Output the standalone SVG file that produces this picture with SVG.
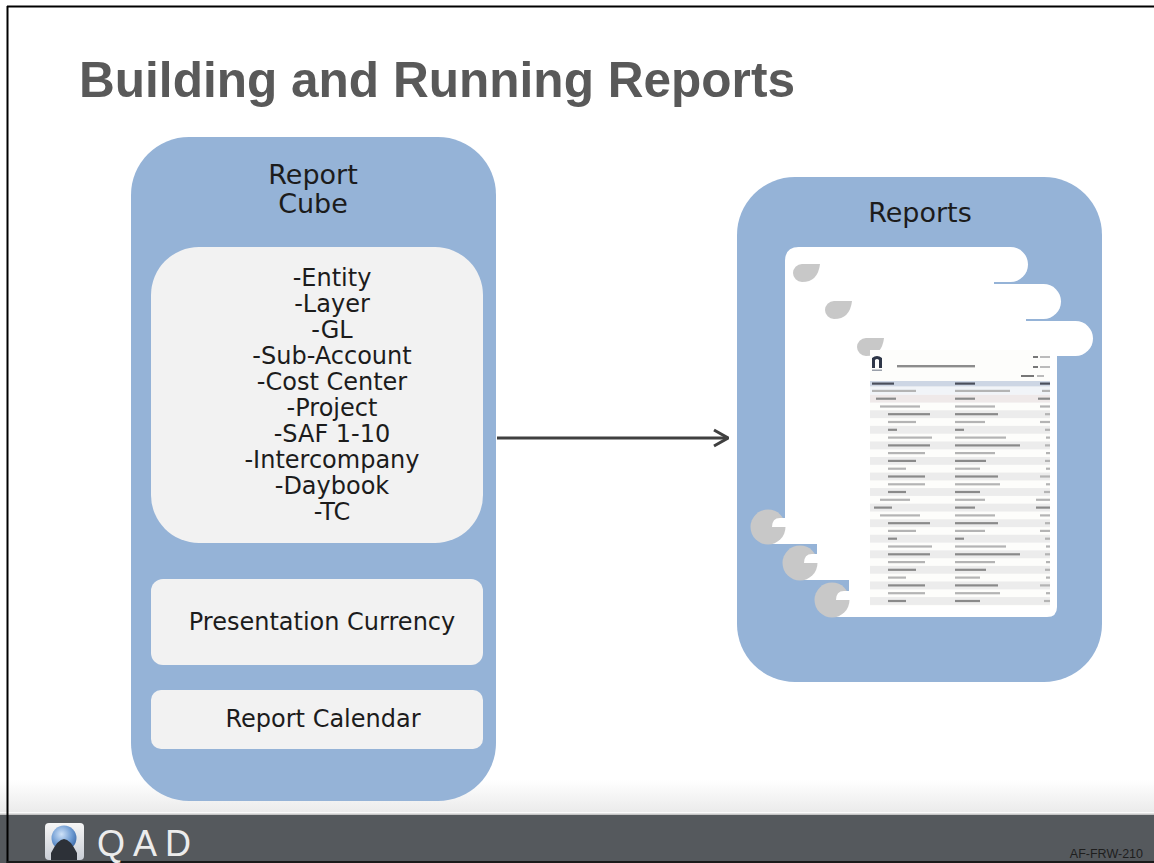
<svg xmlns="http://www.w3.org/2000/svg" width="1154" height="863" viewBox="0 0 1154 863">
  <defs>
    <style>
      .title { font-family: "Liberation Sans", Arial, sans-serif; font-weight: bold; font-size: 50px; fill: #595959; }
      .lbl { font-family: "DejaVu Sans", "Liberation Sans", sans-serif; fill: #1c1c1c; text-anchor: middle; }
      .big { font-size: 27px; }
      .item { font-size: 24px; }
      .panel { fill: #95b3d7; }
      .inner { fill: #f2f2f2; }
      .sheet { fill: #ffffff; }
      .curl { fill: #c8c8c8; }
      .bar { fill: #b4b4b4; }
      .barDark { fill: #8a8a8a; }
      .stripe { fill: #ececec; }
      .conn { stroke: #404040; stroke-width: 3; fill: none; }
    </style>
    <marker id="chevron" viewBox="0 0 16 20" refX="15" refY="10" markerWidth="16" markerHeight="20" markerUnits="userSpaceOnUse" orient="auto">
      <path d="M1,2 L15,10 L1,18" fill="none" stroke="#404040" stroke-width="3"/>
    </marker>
    <linearGradient id="fade" x1="0" y1="0" x2="0" y2="1">
      <stop offset="0" stop-color="#ffffff"/>
      <stop offset="1" stop-color="#ebebeb"/>
    </linearGradient>
    <linearGradient id="tile" x1="0" y1="0" x2="0" y2="1">
      <stop offset="0" stop-color="#f6f6f6"/>
      <stop offset="1" stop-color="#c9ced6"/>
    </linearGradient>
    <radialGradient id="globe" cx="0.4" cy="0.35" r="0.7">
      <stop offset="0" stop-color="#cfe2f8"/>
      <stop offset="0.6" stop-color="#6e9bd2"/>
      <stop offset="1" stop-color="#3b69a8"/>
    </radialGradient>
  </defs>

  <!-- page -->
  <rect x="0" y="0" width="1154" height="863" fill="#ffffff"/>
  <rect x="0" y="780" width="1154" height="32" fill="url(#fade)"/>
  <rect x="0" y="812" width="1154" height="1.5" fill="#fafafa"/>
  <rect x="0" y="813.5" width="1154" height="1.5" fill="#c4c4c4"/>
  <rect x="0" y="815" width="1154" height="48" fill="#55595d"/>
  <line x1="7.5" y1="6" x2="7.5" y2="863" stroke="#000" stroke-width="2"/>
  <line x1="7" y1="6.5" x2="1154" y2="6.5" stroke="#000" stroke-width="2"/>
  <line x1="7" y1="862" x2="1154" y2="862" stroke="#1a1a1a" stroke-width="2"/>

  <text class="title" x="79" y="97" textLength="716" lengthAdjust="spacingAndGlyphs">Building and Running Reports</text>

  <!-- Report Cube -->
  <g id="report-cube">
    <rect class="panel" x="131" y="137" width="365" height="664" rx="58"/>
    <text class="lbl big" x="313" y="184">Report</text>
    <text class="lbl big" x="313" y="213">Cube</text>
  </g>

  <g id="dimensions">
    <rect class="inner" x="151" y="247" width="332" height="296" rx="48"/>
    <text class="lbl item" x="332" y="286">-Entity</text>
    <text class="lbl item" x="332" y="312">-Layer</text>
    <text class="lbl item" x="332" y="338">-GL</text>
    <text class="lbl item" x="332" y="364">-Sub-Account</text>
    <text class="lbl item" x="332" y="390">-Cost Center</text>
    <text class="lbl item" x="332" y="416">-Project</text>
    <text class="lbl item" x="332" y="442">-SAF 1-10</text>
    <text class="lbl item" x="332" y="468">-Intercompany</text>
    <text class="lbl item" x="332" y="494">-Daybook</text>
    <text class="lbl item" x="332" y="520">-TC</text>
  </g>

  <g id="presentation-currency">
    <rect class="inner" x="151" y="579" width="332" height="86" rx="12"/>
    <text class="lbl item" x="322" y="630">Presentation Currency</text>
  </g>

  <g id="report-calendar">
    <rect class="inner" x="151" y="690" width="332" height="59" rx="10"/>
    <text class="lbl item" x="323" y="727">Report Calendar</text>
  </g>

  <!-- connectors -->
  <g id="connectors">
    <line class="conn" x1="497" y1="438" x2="728" y2="438" marker-end="url(#chevron)"/>
  </g>

  <!-- Reports -->
  <g id="reports">
    <rect class="panel" x="737" y="177" width="365" height="505" rx="58"/>
    <text class="lbl big" x="920" y="222">Reports</text>

    <!-- stacked report sheets: body, top roll, bottom-left curl -->
    <g id="sheet-1">
      <path class="sheet" d="M785,261 Q785,247 799,247 L994,247 L994,544 L768,544 L768,527 L785,527 Z"/>
      <rect class="sheet" x="785" y="247" width="243" height="35" rx="17.5"/>
      <path class="curl" d="M820,264 L802,264 A9,9 0 0 0 802,282 Q818,282 820,264 Z"/>
      <circle class="curl" cx="768" cy="527" r="17.5"/>
      <path class="sheet" d="M772,527 L786,527 L786,518 L780,518 Q772,518 772,527 Z"/>
    </g>
    <g id="sheet-2">
      <path class="sheet" d="M817,284 L1026,284 L1026,580 L800,580 L800,563 L817,563 Z"/>
      <rect class="sheet" x="817" y="284" width="244" height="35" rx="17.5"/>
      <path class="curl" d="M852,301 L834,301 A9,9 0 0 0 834,319 Q850,319 852,301 Z"/>
      <circle class="curl" cx="800" cy="563" r="17.5"/>
      <path class="sheet" d="M804,563 L818,563 L818,554 L812,554 Q804,554 804,563 Z"/>
    </g>
    <g id="sheet-3">
      <path class="sheet" d="M849,321 L1057,321 L1057,607 Q1057,617 1047,617 L832,617 L832,600 L849,600 Z"/>
      <rect class="sheet" x="849" y="321" width="244" height="35" rx="17.5"/>
      <path class="curl" d="M884,338 L866,338 A9,9 0 0 0 866,356 Q882,356 884,338 Z"/>
      <circle class="curl" cx="832" cy="600" r="17.5"/>
      <path class="sheet" d="M836,600 L850,600 L850,591 L844,591 Q836,591 836,600 Z"/>
    </g>

    <!-- report preview -->
    <g id="report-preview">
      <rect x="870" y="350" width="180" height="256" fill="#fdfdfb"/>
      <path d="M872,368 L872,358 Q877,354 882,358 L882,368 L879,368 L879,360 Q877,358 875,360 L875,368 Z" fill="#2e3647"/>
      <rect x="872" y="369.5" width="10" height="1.5" fill="#9aa0aa"/>
      <rect x="897" y="365" width="78" height="2.4" fill="#8c8c8c"/>
      <rect x="1033" y="356" width="5" height="2" fill="#777"/>
      <rect x="1040" y="356" width="10" height="2" fill="#bbb"/>
      <rect x="1033" y="366" width="5" height="2" fill="#777"/>
      <rect x="1040" y="366" width="10" height="2" fill="#bbb"/>
      <rect x="1021" y="375" width="13" height="2" fill="#777"/>
      <rect x="1037" y="375" width="7" height="2" fill="#bbb"/>

      <rect x="870" y="381" width="180" height="5.5" fill="#cdd6e4"/>
      <rect x="872" y="382.5" width="22" height="2.2" fill="#4a4f5c"/>
      <rect x="955" y="382.5" width="20" height="2.2" fill="#4a4f5c"/>
      <rect x="1040" y="382.5" width="10" height="2.2" fill="#4a4f5c"/>

      <g transform="translate(0,387)"><rect x="870" y="0" width="180" height="7.8" fill="#f1f4f8"/><rect class="bar" x="872" y="2.8" width="44" height="2.2"/><rect class="bar" x="955" y="2.8" width="55" height="2.2"/><rect class="bar" x="1042" y="2.8" width="8" height="2.2"/></g>
      <g transform="translate(0,394.8)"><rect x="870" y="0" width="180" height="7.8" fill="#efe9e9"/><rect class="barDark" x="876" y="2.8" width="20" height="2.2"/><rect class="barDark" x="955" y="2.8" width="20" height="2.2"/><rect class="barDark" x="1038" y="2.8" width="12" height="2.2"/></g>
      <g transform="translate(0,402.6)"><rect class="bar" x="880" y="2.8" width="40" height="2.2"/><rect class="bar" x="955" y="2.8" width="40" height="2.2"/><rect class="bar" x="1040" y="2.8" width="10" height="2.2"/></g>
      <g transform="translate(0,410.3)"><rect class="stripe" x="870" y="0" width="180" height="7.8"/><rect class="barDark" x="888" y="2.8" width="42" height="2.2"/><rect class="barDark" x="955" y="2.8" width="43" height="2.2"/><rect class="bar" x="1045" y="2.8" width="5" height="2.2"/></g>
      <g transform="translate(0,418.1)"><rect class="bar" x="888" y="2.8" width="28" height="2.2"/><rect class="bar" x="955" y="2.8" width="30" height="2.2"/><rect class="bar" x="1040" y="2.8" width="10" height="2.2"/></g>
      <g transform="translate(0,425.9)"><rect class="stripe" x="870" y="0" width="180" height="7.8"/><rect class="barDark" x="888" y="2.8" width="9" height="2.2"/><rect class="barDark" x="955" y="2.8" width="9" height="2.2"/><rect class="bar" x="1045" y="2.8" width="5" height="2.2"/></g>
      <g transform="translate(0,433.7)"><rect class="bar" x="888" y="2.8" width="44" height="2.2"/><rect class="bar" x="955" y="2.8" width="51" height="2.2"/><rect class="bar" x="1046" y="2.8" width="4" height="2.2"/></g>
      <g transform="translate(0,441.5)"><rect class="stripe" x="870" y="0" width="180" height="7.8"/><rect class="barDark" x="888" y="2.8" width="42" height="2.2"/><rect class="barDark" x="955" y="2.8" width="65" height="2.2"/><rect class="bar" x="1045" y="2.8" width="5" height="2.2"/></g>
      <g transform="translate(0,449.2)"><rect class="bar" x="888" y="2.8" width="37" height="2.2"/><rect class="bar" x="955" y="2.8" width="40" height="2.2"/><rect class="bar" x="1046" y="2.8" width="4" height="2.2"/></g>
      <g transform="translate(0,457)"><rect class="stripe" x="870" y="0" width="180" height="7.8"/><rect class="barDark" x="888" y="2.8" width="28" height="2.2"/><rect class="barDark" x="955" y="2.8" width="31" height="2.2"/><rect class="bar" x="1045" y="2.8" width="5" height="2.2"/></g>
      <g transform="translate(0,464.8)"><rect class="bar" x="888" y="2.8" width="18" height="2.2"/><rect class="bar" x="955" y="2.8" width="25" height="2.2"/><rect class="bar" x="1046" y="2.8" width="4" height="2.2"/></g>
      <g transform="translate(0,472.6)"><rect class="stripe" x="870" y="0" width="180" height="7.8"/><rect class="barDark" x="888" y="2.8" width="37" height="2.2"/><rect class="barDark" x="955" y="2.8" width="43" height="2.2"/><rect class="bar" x="1040" y="2.8" width="10" height="2.2"/></g>
      <g transform="translate(0,480.4)"><rect class="bar" x="888" y="2.8" width="37" height="2.2"/><rect class="bar" x="955" y="2.8" width="45" height="2.2"/><rect class="bar" x="1046" y="2.8" width="4" height="2.2"/></g>
      <g transform="translate(0,488.1)"><rect class="stripe" x="870" y="0" width="180" height="7.8"/><rect class="barDark" x="888" y="2.8" width="18" height="2.2"/><rect class="barDark" x="955" y="2.8" width="25" height="2.2"/><rect class="bar" x="1044" y="2.8" width="6" height="2.2"/></g>
      <g transform="translate(0,495.9)"><rect class="bar" x="880" y="2.8" width="30" height="2.2"/><rect class="bar" x="955" y="2.8" width="30" height="2.2"/><rect class="bar" x="1036" y="2.8" width="14" height="2.2"/></g>
      <g transform="translate(0,503.7)"><rect class="stripe" x="870" y="0" width="180" height="7.8"/><rect class="barDark" x="874" y="2.8" width="18" height="2.2"/><rect class="barDark" x="955" y="2.8" width="20" height="2.2"/><rect class="barDark" x="1036" y="2.8" width="14" height="2.2"/></g>
      <g transform="translate(0,511.5)"><rect class="bar" x="880" y="2.8" width="40" height="2.2"/><rect class="bar" x="955" y="2.8" width="40" height="2.2"/><rect class="bar" x="1040" y="2.8" width="10" height="2.2"/></g>
      <g transform="translate(0,519.3)"><rect class="stripe" x="870" y="0" width="180" height="7.8"/><rect class="barDark" x="888" y="2.8" width="42" height="2.2"/><rect class="barDark" x="955" y="2.8" width="43" height="2.2"/><rect class="bar" x="1045" y="2.8" width="5" height="2.2"/></g>
      <g transform="translate(0,527)"><rect class="bar" x="888" y="2.8" width="28" height="2.2"/><rect class="bar" x="955" y="2.8" width="30" height="2.2"/><rect class="bar" x="1040" y="2.8" width="10" height="2.2"/></g>
      <g transform="translate(0,534.8)"><rect class="stripe" x="870" y="0" width="180" height="7.8"/><rect class="barDark" x="888" y="2.8" width="9" height="2.2"/><rect class="barDark" x="955" y="2.8" width="9" height="2.2"/><rect class="bar" x="1045" y="2.8" width="5" height="2.2"/></g>
      <g transform="translate(0,542.6)"><rect class="bar" x="888" y="2.8" width="44" height="2.2"/><rect class="bar" x="955" y="2.8" width="51" height="2.2"/><rect class="bar" x="1046" y="2.8" width="4" height="2.2"/></g>
      <g transform="translate(0,550.4)"><rect class="stripe" x="870" y="0" width="180" height="7.8"/><rect class="barDark" x="888" y="2.8" width="42" height="2.2"/><rect class="barDark" x="955" y="2.8" width="65" height="2.2"/><rect class="bar" x="1045" y="2.8" width="5" height="2.2"/></g>
      <g transform="translate(0,558.2)"><rect class="bar" x="888" y="2.8" width="37" height="2.2"/><rect class="bar" x="955" y="2.8" width="40" height="2.2"/><rect class="bar" x="1046" y="2.8" width="4" height="2.2"/></g>
      <g transform="translate(0,565.9)"><rect class="stripe" x="870" y="0" width="180" height="7.8"/><rect class="barDark" x="888" y="2.8" width="28" height="2.2"/><rect class="barDark" x="955" y="2.8" width="31" height="2.2"/><rect class="bar" x="1045" y="2.8" width="5" height="2.2"/></g>
      <g transform="translate(0,573.7)"><rect class="bar" x="888" y="2.8" width="18" height="2.2"/><rect class="bar" x="955" y="2.8" width="25" height="2.2"/><rect class="bar" x="1046" y="2.8" width="4" height="2.2"/></g>
      <g transform="translate(0,581.5)"><rect class="stripe" x="870" y="0" width="180" height="7.8"/><rect class="barDark" x="888" y="2.8" width="37" height="2.2"/><rect class="barDark" x="955" y="2.8" width="43" height="2.2"/><rect class="bar" x="1040" y="2.8" width="10" height="2.2"/></g>
      <g transform="translate(0,589.3)"><rect class="bar" x="888" y="2.8" width="37" height="2.2"/><rect class="bar" x="955" y="2.8" width="45" height="2.2"/><rect class="bar" x="1046" y="2.8" width="4" height="2.2"/></g>
      <g transform="translate(0,597.1)"><rect class="stripe" x="870" y="0" width="180" height="7.8"/><rect class="barDark" x="888" y="2.8" width="18" height="2.2"/><rect class="barDark" x="955" y="2.8" width="25" height="2.2"/><rect class="bar" x="1044" y="2.8" width="6" height="2.2"/></g>
    </g>
  </g>

  <!-- footer brand -->
  <g id="qad-logo">
    <rect x="45" y="823" width="39" height="37" rx="4" fill="url(#tile)"/>
    <circle cx="64" cy="838" r="12.5" fill="url(#globe)"/>
    <path d="M51,860 L51,853 Q58,839 64,839 Q70,839 77,853 L77,860 Z" fill="#2d3138"/>
    <text x="97" y="856" font-family="'Liberation Sans', Arial, sans-serif" font-size="36" letter-spacing="8" fill="#ececec">QAD</text>
  </g>
  <text x="1143" y="858" text-anchor="end" font-family="'Liberation Sans', Arial, sans-serif" font-size="12.5" fill="#1e1e1e">AF-FRW-210</text>
</svg>
